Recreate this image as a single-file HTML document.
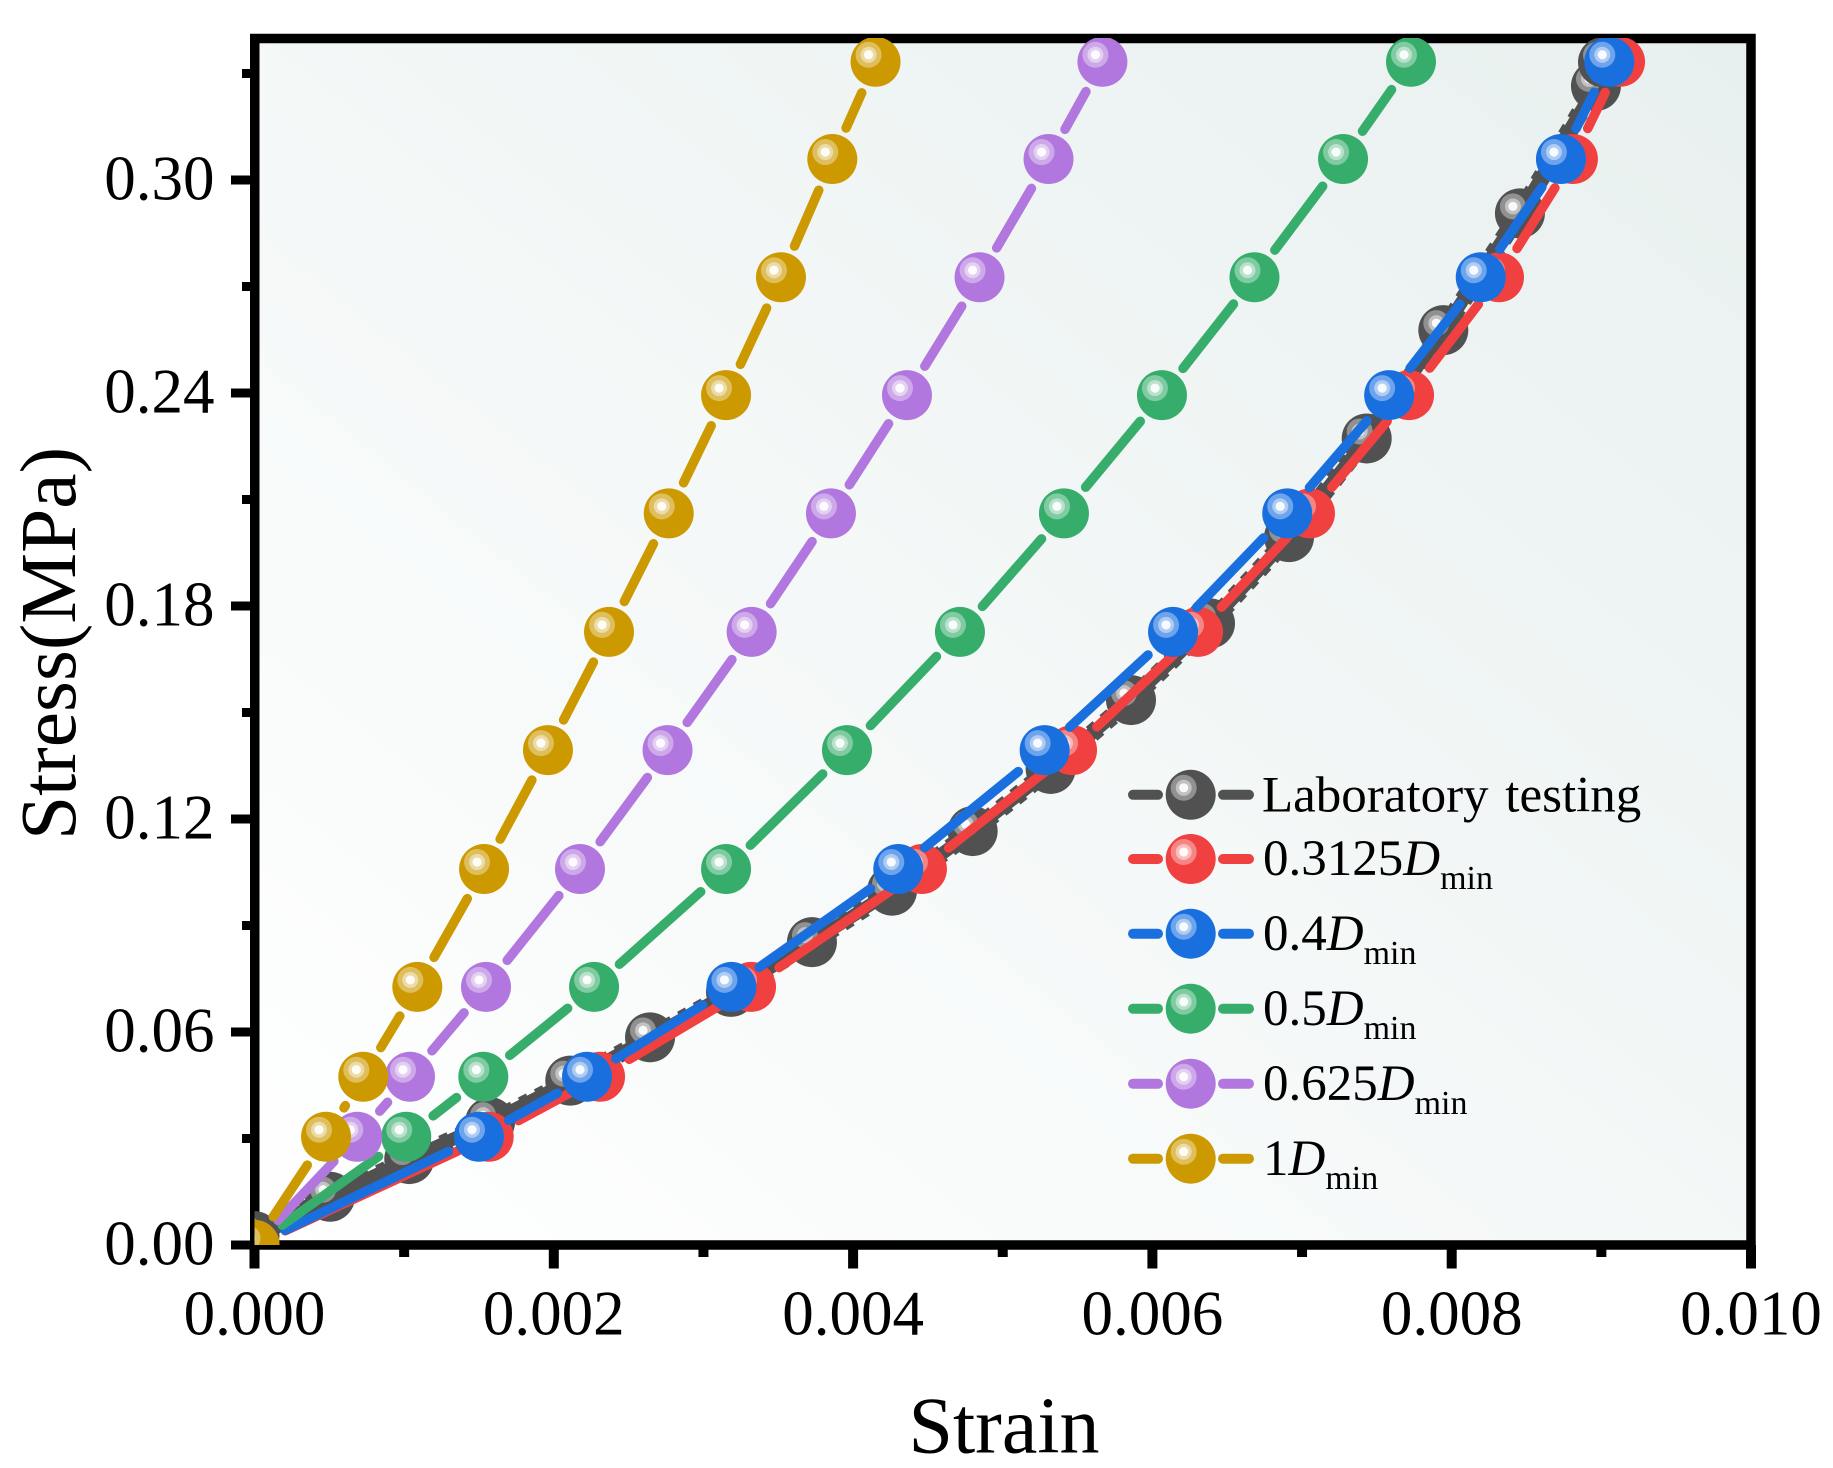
<!DOCTYPE html>
<html>
<head>
<meta charset="utf-8">
<title>Stress-strain chart</title>
<style>
html,body{margin:0;padding:0;background:#fff;}
svg{display:block;}
text{font-family:"Liberation Serif",serif;fill:#000;}
</style>
</head>
<body>
<svg id="chart" xmlns="http://www.w3.org/2000/svg" width="1833" height="1468" viewBox="0 0 1833 1468">
  <defs>
    <linearGradient id="bgGrad" x1="0" y1="1" x2="1" y2="0">
      <stop offset="0" stop-color="#ffffff"/>
      <stop offset="1" stop-color="#e8f0ef"/>
    </linearGradient>
    <clipPath id="plotClip"><rect x="254.5" y="38" width="1496.5" height="1207"/></clipPath>
  </defs>
  <rect x="255" y="38.5" width="1496" height="1206.5" fill="url(#bgGrad)"/>
  <g id="ticks"></g>
  <rect x="254.75" y="38.5" width="1496.25" height="1206.5" fill="none" stroke="#000" stroke-width="9.5"/>
  <g id="tickLabels"></g>
  <text x="1004" y="1452.5" font-size="80" text-anchor="middle">Strain</text>
  <text transform="translate(75,643.5) rotate(-90)" font-size="79.5" text-anchor="middle">Stress(MPa)</text>
  <g id="series" clip-path="url(#plotClip)"></g>
  <g id="legend">
    <text x="1262" y="811.5" font-size="51" word-spacing="4">Laboratory testing</text>
    <text x="1263" y="875" font-size="51">0.3125<tspan font-style="italic">D</tspan><tspan font-size="34" dy="14">min</tspan></text>
    <text x="1263" y="950" font-size="51">0.4<tspan font-style="italic">D</tspan><tspan font-size="34" dy="14">min</tspan></text>
    <text x="1263" y="1025" font-size="51">0.5<tspan font-style="italic">D</tspan><tspan font-size="34" dy="14">min</tspan></text>
    <text x="1263" y="1100" font-size="51">0.625<tspan font-style="italic">D</tspan><tspan font-size="34" dy="14">min</tspan></text>
    <text x="1263" y="1175" font-size="51">1<tspan font-style="italic">D</tspan><tspan font-size="34" dy="14">min</tspan></text>
  </g>
</svg>
<script>
const xTickValues = [0, 0.002, 0.004, 0.006, 0.008, 0.01];
const xTickLabels = ["0.000", "0.002", "0.004", "0.006", "0.008", "0.010"];
const xMinorValues = [0.001, 0.003, 0.005, 0.007, 0.009];
const yTickValues = [0, 0.06, 0.12, 0.18, 0.24, 0.30];
const yTickLabels = ["0.00", "0.06", "0.12", "0.18", "0.24", "0.30"];
const yMinorValues = [0.03, 0.09, 0.15, 0.21, 0.27, 0.33];

const stressLab = [0.0025, 0.0136, 0.0242, 0.0346, 0.0463, 0.0585, 0.0713, 0.0853, 0.0998, 0.1166, 0.1341, 0.1535, 0.1751, 0.1994, 0.2272, 0.2577, 0.2906, 0.3265, 0.3332];
const strainLab = [0, 0.000505, 0.001034, 0.001574, 0.00211, 0.002643, 0.003184, 0.003725, 0.00426, 0.004799, 0.00532, 0.005857, 0.006385, 0.006913, 0.007432, 0.007944, 0.008456, 0.008964, 0.009011];

const stressSim = [0, 0.0305, 0.0474, 0.0727, 0.1059, 0.1394, 0.1727, 0.2061, 0.2394, 0.2726, 0.3059, 0.3333];
const strain03125 = [0, 0.001565, 0.002309, 0.003318, 0.00446, 0.005463, 0.006305, 0.007053, 0.007715, 0.008316, 0.00881, 0.009125];
const strain04 = [0, 0.0015, 0.002222, 0.003187, 0.004302, 0.00528, 0.006138, 0.006901, 0.007582, 0.008194, 0.00873, 0.009053];
const strain05 = [0, 0.001014, 0.001529, 0.002269, 0.003151, 0.003959, 0.004714, 0.005409, 0.006064, 0.006682, 0.007274, 0.007728];
const strain0625 = [0, 0.000687, 0.001039, 0.001547, 0.002175, 0.00276, 0.003322, 0.003852, 0.00436, 0.004845, 0.005306, 0.005666];
const strain1 = [0, 0.000478, 0.000727, 0.001088, 0.001534, 0.001961, 0.002369, 0.002768, 0.003151, 0.003518, 0.003861, 0.00415];

const NS = "http://www.w3.org/2000/svg";
const xAxis = v => 254.5 + v * 149650;
const yAxis = v => 1245 - v * 3550;
const MARKER_R = 25;

function make(parent, tag, attrs) {
  const el = document.createElementNS(NS, tag);
  for (const k in attrs) el.setAttribute(k, attrs[k]);
  parent.appendChild(el);
  return el;
}

const ticksG = document.getElementById("ticks");
const labelsG = document.getElementById("tickLabels");

xTickValues.forEach((v, i) => {
  const t = make(ticksG, "line", {x1: xAxis(v), x2: xAxis(v), y1: 1245, y2: 1268.5, stroke: "#000", "stroke-width": 10});
  
  
  const l = make(labelsG, "text", {x: xAxis(v), y: 1334.5, "font-size": 63, "text-anchor": "middle"});
  l.textContent = xTickLabels[i];
  
  
});
xMinorValues.forEach(v => {
  const t = make(ticksG, "line", {x1: xAxis(v), x2: xAxis(v), y1: 1245, y2: 1257, stroke: "#000", "stroke-width": 10});
  
  
});
yTickValues.forEach((v, i) => {
  const t = make(ticksG, "line", {x1: 231, x2: 255, y1: yAxis(v), y2: yAxis(v), stroke: "#000", "stroke-width": 9});
  
  
  const l = make(labelsG, "text", {x: 214.5, y: yAxis(v) + 19.5, "font-size": 63, "text-anchor": "end"});
  l.textContent = yTickLabels[i];
  
  
});
yMinorValues.forEach(v => {
  const t = make(ticksG, "line", {x1: 242, x2: 255, y1: yAxis(v), y2: yAxis(v), stroke: "#000", "stroke-width": 9});
  
  
});

function drawBall(parent, cx, cy, color, name) {
  const g = make(parent, "g", {});
  
  
  make(g, "circle", {cx: cx, cy: cy, r: MARKER_R, fill: color});
  make(g, "circle", {cx: cx - 7, cy: cy - 7, r: 13, fill: "#fff", "fill-opacity": 0.37});
  make(g, "circle", {cx: cx - 7, cy: cy - 7, r: 8, fill: "#fff", "fill-opacity": 0.45});
  make(g, "circle", {cx: cx - 7, cy: cy - 7, r: 4.6, fill: "#fff", "fill-opacity": 0.9});
}

function drawSeries(key, xs, ys, color, width, bumps, gap) {
  const parent = document.getElementById("series");
  const g = make(parent, "g", {});
  
  
  for (let i = 0; i + 1 < xs.length; i++) {
    const x1 = xAxis(xs[i]), y1 = yAxis(ys[i]), x2 = xAxis(xs[i + 1]), y2 = yAxis(ys[i + 1]);
    const d = Math.hypot(x2 - x1, y2 - y1);
    if (d <= 2 * gap) continue;
    const ux = (x2 - x1) / d, uy = (y2 - y1) / d;
    const seg = make(g, "line", {x1: x1 + ux * gap, y1: y1 + uy * gap, x2: x2 - ux * gap, y2: y2 - uy * gap, stroke: color, "stroke-width": width, "stroke-linecap": "round"});
    
    
    if (bumps) {
      const bump = make(g, "line", {x1: x1 + ux * gap, y1: y1 + uy * gap, x2: x2 - ux * gap, y2: y2 - uy * gap, stroke: color, "stroke-width": width + 5, "stroke-dasharray": "9 9"});
      
      
    }
  }
  for (let i = 0; i < xs.length; i++) {
    drawBall(g, xAxis(xs[i]), yAxis(ys[i]), color, 'marker-' + key);
  }
}

drawSeries("laboratory", strainLab, stressLab, "#515151", 13, true, 18);
drawSeries("03125", strain03125, stressSim, "#f14040", 9.5, false, 34);
drawSeries("04", strain04, stressSim, "#1a6fdf", 9.5, false, 34);
drawSeries("05", strain05, stressSim, "#37ad6b", 9.5, false, 34);
drawSeries("0625", strain0625, stressSim, "#b177de", 9.5, false, 34);
drawSeries("1", strain1, stressSim, "#cc9900", 9.5, false, 34);

function drawLegendKey(cy, color, name) {
  const legend = document.getElementById("legend");
  const g = make(legend, "g", {});
  
  
  make(g, "line", {x1: 1133, x2: 1158, y1: cy, y2: cy, stroke: color, "stroke-width": 10, "stroke-linecap": "round"});
  make(g, "line", {x1: 1223, x2: 1249, y1: cy, y2: cy, stroke: color, "stroke-width": 10, "stroke-linecap": "round"});
  drawBall(g, 1190.7, cy, color, name + '-ball');
}
drawLegendKey(794.8, "#515151", "legend-key-laboratory");
drawLegendKey(859, "#f14040", "legend-key-03125");
drawLegendKey(933.7, "#1a6fdf", "legend-key-04");
drawLegendKey(1008.7, "#37ad6b", "legend-key-05");
drawLegendKey(1083.7, "#b177de", "legend-key-0625");
drawLegendKey(1158.7, "#cc9900", "legend-key-1");
</script>
</body>
</html>
